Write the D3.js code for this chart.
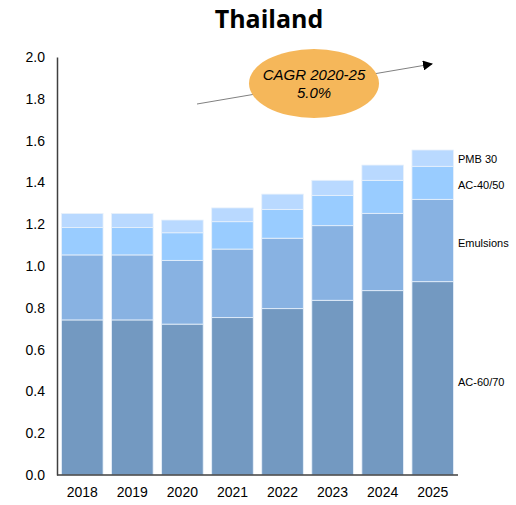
<!DOCTYPE html>
<html>
<head>
<meta charset="utf-8">
<script src="https://cdn.jsdelivr.net/npm/d3@7"></script>
<style>
  html, body { margin: 0; padding: 0; background: #fff; }
  svg { display: block; }
</style>
</head>
<body>
<svg id="chart" width="516" height="505"></svg>
<script>
// Bitumen demand, Thailand (million tonnes)
const years = ["2018", "2019", "2020", "2021", "2022", "2023", "2024", "2025"];
const seriesNames = ["AC-60/70", "Emulsions", "AC-40/50", "PMB 30"];
const ac6070    = [0.742, 0.742, 0.722, 0.753, 0.796, 0.836, 0.882, 0.925];
const emulsions = [0.311, 0.311, 0.305, 0.328, 0.337, 0.357, 0.370, 0.394];
const ac4050    = [0.131, 0.131, 0.132, 0.131, 0.138, 0.145, 0.158, 0.158];
const pmb30     = [0.067, 0.067, 0.061, 0.066, 0.073, 0.072, 0.073, 0.078];
const yTicks = [0, 0.2, 0.4, 0.6, 0.8, 1.0, 1.2, 1.4, 1.6, 1.8, 2.0];
const cagrLabel = ["CAGR 2020-25", "5.0%"];

const colors = {
  "AC-60/70": "#7399c1",
  "Emulsions": "#88b2e2",
  "AC-40/50": "#99ccff",
  "PMB 30": "#b9d9ff"
};

const rows = years.map((y, i) => ({
  year: y,
  "AC-60/70": ac6070[i],
  "Emulsions": emulsions[i],
  "AC-40/50": ac4050[i],
  "PMB 30": pmb30[i]
}));

const svg = d3.select("#chart");
const margin = { left: 57 };
const y0 = 475;

const x = d3.scaleBand().domain(years).range([margin.left, 458]).paddingInner(0.17).paddingOuter(0.09);
const y = d3.scaleLinear().domain([0, 2.0]).range([y0, 57]);

const layers = d3.stack().keys(seriesNames)(rows);

// stacked bars
svg.append("g").selectAll("g")
  .data(layers)
  .join("g")
  .attr("fill", d => colors[d.key])
  .selectAll("rect")
  .data(d => d)
  .join("rect")
  .attr("x", d => x(d.data.year))
  .attr("width", x.bandwidth())
  .attr("y", d => y(d[1]))
  .attr("height", d => y(d[0]) - y(d[1]))
  .attr("stroke", "#e8f1fb")
  .attr("stroke-width", 0.8);

// y axis
const yAxis = svg.append("g")
  .attr("transform", `translate(${margin.left},0)`)
  .call(d3.axisLeft(y).tickValues(yTicks).tickFormat(d3.format(".1f")).tickSize(0).tickPadding(12));
yAxis.select(".domain").attr("stroke", "#404040").attr("stroke-width", 1.5);
yAxis.selectAll("text")
  .attr("font-family", "Liberation Sans, Arial, sans-serif")
  .attr("font-size", 14)
  .attr("fill", "#000");

// x axis
const xAxis = svg.append("g")
  .attr("transform", `translate(0,${y0})`)
  .call(d3.axisBottom(x).tickSize(0).tickPadding(12));
xAxis.select(".domain").attr("stroke", "#404040").attr("stroke-width", 1.5)
  .attr("d", `M${margin.left},0H458`);
xAxis.selectAll("text")
  .attr("font-family", "Liberation Sans, Arial, sans-serif")
  .attr("font-size", 14)
  .attr("fill", "#000");

// series labels beside the last bar
const labelY = {
  "AC-60/70": y(0.445),
  "Emulsions": y(1.11),
  "AC-40/50": y(1.385),
  "PMB 30": y(1.51)
};
svg.append("g").selectAll("text")
  .data(seriesNames)
  .join("text")
  .attr("x", 458)
  .attr("y", d => labelY[d])
  .attr("dy", "0.35em")
  .attr("font-family", "Liberation Sans, Arial, sans-serif")
  .attr("font-size", 11)
  .attr("fill", "#000")
  .text(d => d);

// title
svg.append("text")
  .attr("x", 269)
  .attr("y", 28)
  .attr("text-anchor", "middle")
  .attr("font-family", "Open Sans, sans-serif")
  .attr("font-weight", "bold")
  .attr("font-size", 25)
  .attr("fill", "#000")
  .text("Thailand");

// growth arrow
const defs = svg.append("defs");
defs.append("marker")
  .attr("id", "arrowhead")
  .attr("viewBox", "0 0 10 10")
  .attr("refX", 9).attr("refY", 5)
  .attr("markerWidth", 10).attr("markerHeight", 10)
  .attr("markerUnits", "userSpaceOnUse")
  .attr("orient", "auto")
  .append("path")
  .attr("d", "M0,0 L10,5 L0,10 Z")
  .attr("fill", "#000");

svg.append("line")
  .attr("x1", 197).attr("y1", 104)
  .attr("x2", 432).attr("y2", 64)
  .attr("stroke", "#808080")
  .attr("stroke-width", 1)
  .attr("marker-end", "url(#arrowhead)");

// CAGR bubble
svg.append("ellipse")
  .attr("cx", 314).attr("cy", 83.5)
  .attr("rx", 65).attr("ry", 34.5)
  .attr("fill", "#f5b75a");

svg.append("g").selectAll("text")
  .data(cagrLabel)
  .join("text")
  .attr("x", 314)
  .attr("y", (d, i) => 80 + i * 18)
  .attr("text-anchor", "middle")
  .attr("font-family", "Liberation Sans, Arial, sans-serif")
  .attr("font-style", "italic")
  .attr("font-size", 15)
  .attr("fill", "#000")
  .text(d => d);
</script>
</body>
</html>
